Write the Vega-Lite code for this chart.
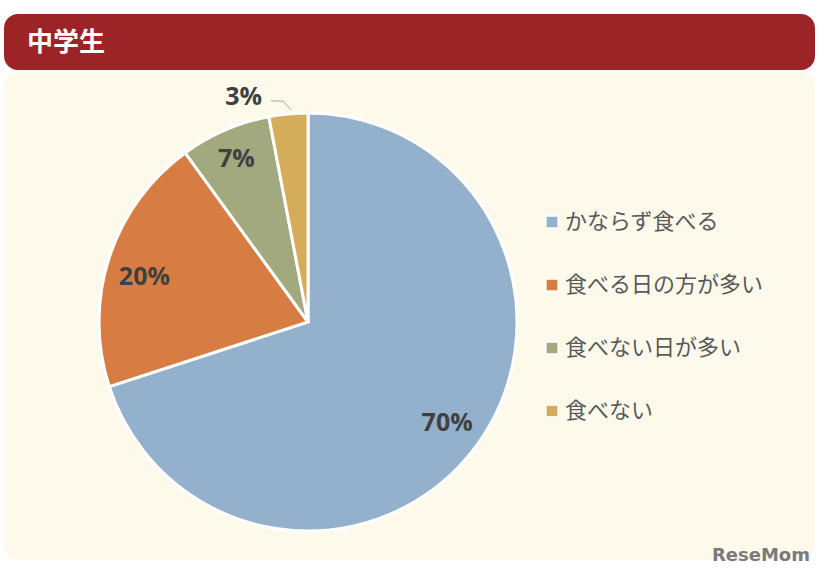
{
  "$schema": "https://vega.github.io/schema/vega-lite/v6.json",
  "background": "white",
  "padding": {"left": 4, "top": 14, "right": 0, "bottom": 0},
  "spacing": 2,
  "config": {"view": {"stroke": null}, "font": "Noto Sans CJK JP"},
  "datasets": {
    "header": [{"label": "中学生"}],
    "meals": [
      {"answer": "かならず食べる", "pct": 70, "label": "70%", "order": 1},
      {"answer": "食べる日の方が多い", "pct": 20, "label": "20%", "order": 2},
      {"answer": "食べない日が多い", "pct": 7, "label": "7%", "order": 3},
      {"answer": "食べない", "pct": 3, "label": "3%", "order": 4}
    ]
  },
  "vconcat": [
    {
      "width": 811,
      "height": 56,
      "view": {"fill": "#9C2427", "cornerRadius": 14, "stroke": null},
      "data": {"name": "header"},
      "mark": {"type": "text", "align": "left", "baseline": "middle", "fontSize": 26, "fontWeight": "bold", "color": "white", "font": "Noto Sans CJK JP"},
      "encoding": {"text": {"field": "label"}, "x": {"value": 23}, "y": {"value": 29}}
    },
    {
      "width": 811,
      "height": 488,
      "view": {"fill": "#FDFAEC", "cornerRadius": 14, "stroke": null},
      "data": {"name": "meals"},
      "title": {"text": "ReseMom", "orient": "bottom", "anchor": "end", "offset": -13, "dx": -5, "fontSize": 18, "font": "DejaVu Sans", "fontWeight": "bold", "color": "#7A7A7A", "baseline": "top"},
      "layer": [
        {
          "mark": {"type": "arc", "stroke": "white", "strokeWidth": 3, "radius": 209},
          "encoding": {
            "theta": {"field": "pct", "type": "quantitative", "stack": true},
            "order": {"field": "order", "type": "quantitative"},
            "color": {
              "field": "answer",
              "type": "nominal",
              "scale": {
                "domain": ["かならず食べる", "食べる日の方が多い", "食べない日が多い", "食べない"],
                "range": ["#93B1CD", "#D77D43", "#A2A97F", "#D5AD5A"]
              },
              "legend": {
                "orient": "none", "legendX": 537, "legendY": 197, "title": null,
                "symbolType": "square", "symbolSize": 150, "symbolStrokeColor": "white", "symbolStrokeWidth": 1.5,
                "symbolOpacity": 1, "labelFontSize": 22, "labelFont": "Noto Sans CJK JP", "labelColor": "#595959",
                "labelLimit": 0, "rowPadding": 41, "labelOffset": 2, "padding": 0
              }
            },
            "x": {"value": 304},
            "y": {"value": 250}
          }
        },
        {
          "mark": {"type": "text", "radius": 172, "fontSize": 25, "fontWeight": "bold", "font": "Open Sans", "color": "#404040", "align": "center", "baseline": "middle"},
          "encoding": {
            "theta": {"field": "pct", "type": "quantitative", "stack": true},
            "order": {"field": "order", "type": "quantitative"},
            "text": {"field": "label"},
            "x": {"value": 304},
            "y": {"value": 250},
            "opacity": {"condition": {"test": "datum.pct == 70", "value": 1}, "value": 0}
          }
        },
        {
          "mark": {"type": "text", "radius": 172, "dy": 8, "fontSize": 25, "fontWeight": "bold", "font": "Open Sans", "color": "#404040", "align": "center", "baseline": "middle"},
          "encoding": {
            "theta": {"field": "pct", "type": "quantitative", "stack": true},
            "order": {"field": "order", "type": "quantitative"},
            "text": {"field": "label"},
            "x": {"value": 304},
            "y": {"value": 250},
            "opacity": {"condition": {"test": "datum.pct == 20", "value": 1}, "value": 0}
          }
        },
        {
          "mark": {"type": "text", "radius": 178, "dx": -1, "fontSize": 25, "fontWeight": "bold", "font": "Open Sans", "color": "#404040", "align": "center", "baseline": "middle"},
          "encoding": {
            "theta": {"field": "pct", "type": "quantitative", "stack": true},
            "order": {"field": "order", "type": "quantitative"},
            "text": {"field": "label"},
            "x": {"value": 304},
            "y": {"value": 250},
            "opacity": {"condition": {"test": "datum.pct == 7", "value": 1}, "value": 0}
          }
        },
        {
          "mark": {"type": "text", "radius": 226, "dx": -43, "fontSize": 25, "fontWeight": "bold", "font": "Open Sans", "color": "#404040", "align": "center", "baseline": "middle"},
          "encoding": {
            "theta": {"field": "pct", "type": "quantitative", "stack": true},
            "order": {"field": "order", "type": "quantitative"},
            "text": {"field": "label"},
            "x": {"value": 304},
            "y": {"value": 250},
            "opacity": {"condition": {"test": "datum.pct == 3", "value": 1}, "value": 0}
          }
        },
        {
          "transform": [{"filter": "datum.pct == 3"}],
          "mark": {"type": "rule", "color": "#A6A6A6", "strokeWidth": 1},
          "encoding": {"x": {"value": 267}, "y": {"value": 29}, "x2": {"value": 279}, "y2": {"value": 29}}
        },
        {
          "transform": [{"filter": "datum.pct == 3"}],
          "mark": {"type": "rule", "color": "#A6A6A6", "strokeWidth": 1},
          "encoding": {"x": {"value": 279}, "y": {"value": 29}, "x2": {"value": 287}, "y2": {"value": 38}}
        }
      ]
    }
  ]
}
